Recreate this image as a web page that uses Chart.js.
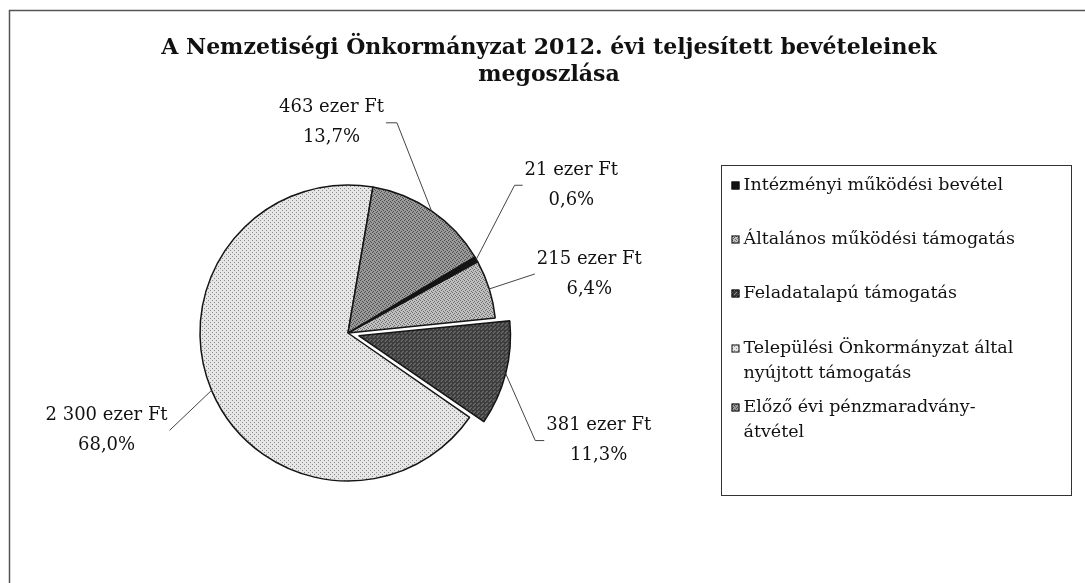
<!DOCTYPE html>
<html>
<head>
<meta charset="utf-8">
<script src="https://cdn.jsdelivr.net/npm/chart.js@4.4.1/dist/chart.umd.min.js"></script>
<style>
  html, body { margin: 0; padding: 0; background: #fff; }
</style>
</head>
<body>
<canvas id="incomeChart" width="1085" height="583"></canvas>
<script>
// Data (ezer Ft)
const categories = [
    'Intézményi működési bevétel',
    'Általános működési támogatás',
    'Feladatalapú támogatás',
    'Települési Önkormányzat által nyújtott támogatás',
    'Előző évi pénzmaradvány-átvétel'
];
const legendLines = [
    ['Intézményi működési bevétel'],
    ['Általános működési támogatás'],
    ['Feladatalapú támogatás'],
    ['Települési Önkormányzat által', 'nyújtott támogatás'],
    ['Előző évi pénzmaradvány-', 'átvétel']
];
const values = [21, 215, 381, 2300, 463];
const unit = 'ezer Ft';
const titleLines = ['A Nemzetiségi Önkormányzat 2012. évi teljesített bevételeinek', 'megoszlása'];

// where each data label sits relative to its slice edge (dx, dy, elbow length)
const labelPlacement = [
    { dx: 95, dy: -74, elbow: 8 },
    { dx: 100, dy: -15, elbow: 0 },
    { dx: 93, dy: 67, elbow: 9 },
    { dx: -105, dy: 40, elbow: 0 },
    { dx: -100, dy: -88, elbow: 11 }
];
// legend rows, distance of each entry's first line from the first one
const legendRows = [0, 54, 108, 163, 222];

const FONT = "'DejaVu Serif', 'Liberation Serif', serif";
const canvas = document.getElementById('incomeChart');
const ctx = canvas.getContext('2d');

// small repeating textures imitating the printed halftone fills
function texture(base, ink, dots) {
    const c = document.createElement('canvas');
    c.width = 4; c.height = 4;
    const g = c.getContext('2d');
    g.fillStyle = base;
    g.fillRect(0, 0, 4, 4);
    g.fillStyle = ink;
    dots.forEach(([x, y]) => g.fillRect(x, y, 1, 1));
    return ctx.createPattern(c, 'repeat');
}

const fills = [
    '#141414',
    texture('#c0c0c0', '#6c6c6c', [[0, 0], [2, 1], [1, 2], [3, 3]]),
    texture('#3a3a3a', '#959595', [[0, 0], [2, 2], [3, 1]]),
    texture('#e6e6e6', '#8a8a8a', [[0, 0], [2, 2]]),
    texture('#9a9a9a', '#4e4e4e', [[0, 0], [2, 1], [1, 3], [3, 2]])
];

const total = values.reduce((a, b) => a + b, 0);
function fmtValue(v) {
    return String(v).replace(/\B(?=(\d{3})+(?!\d))/g, ' ') + ' ' + unit;
}
function fmtPct(v) {
    return (v / total * 100).toFixed(1).replace('.', ',') + '%';
}

// page frame + title
const framePlugin = {
    id: 'frameAndTitle',
    beforeDraw(chart) {
        const c = chart.ctx;
        c.save();
        c.fillStyle = '#fff';
        c.fillRect(0, 0, chart.width, chart.height);
        c.strokeStyle = '#555';
        c.lineWidth = 1.5;
        c.beginPath();
        c.moveTo(9.5, chart.height);
        c.lineTo(9.5, 10.5);
        c.lineTo(chart.width, 10.5);
        c.stroke();

        c.fillStyle = '#111';
        c.font = 'bold 22px ' + FONT;
        c.textAlign = 'center';
        c.textBaseline = 'middle';
        titleLines.forEach((t, i) => c.fillText(t, 549, 48 + i * 27));
        c.restore();
    }
};

// data labels with leader lines
const labelPlugin = {
    id: 'sliceLabels',
    afterDatasetsDraw(chart) {
        const c = chart.ctx;
        const meta = chart.getDatasetMeta(0);
        c.save();
        c.font = '18px ' + FONT;
        c.textAlign = 'center';
        c.textBaseline = 'middle';
        meta.data.forEach((arc, i) => {
            const p = arc.getProps(['x', 'y', 'startAngle', 'endAngle', 'outerRadius', 'circumference'], true);
            const mid = (p.startAngle + p.endAngle) / 2;
            const off = (arc.options.offset || 0) / 4;
            const fix = 1 - Math.sin(Math.min(Math.PI, p.circumference || 0));
            const r = p.outerRadius + off * fix;
            const ax = p.x + Math.cos(mid) * (r + off);
            const ay = p.y + Math.sin(mid) * (r + off);

            const place = labelPlacement[i];
            const lines = [fmtValue(values[i]), fmtPct(values[i])];
            const cx = ax + place.dx;
            const cy = ay + place.dy;
            const w = Math.max(...lines.map(l => c.measureText(l).width));
            const side = place.dx > 0 ? 1 : -1;
            const edge = cx - side * (w / 2 + 2);

            c.strokeStyle = '#444';
            c.lineWidth = 1;
            c.beginPath();
            c.moveTo(ax, ay);
            c.lineTo(edge - side * place.elbow, cy);
            c.lineTo(edge, cy);
            c.stroke();

            c.fillStyle = '#111';
            c.fillText(lines[0], cx, cy - 15);
            c.fillText(lines[1], cx, cy + 15);
        });
        c.restore();
    }
};

// framed legend on the right
const legendPlugin = {
    id: 'boxLegend',
    afterDraw(chart) {
        const c = chart.ctx;
        const box = { left: 721.5, top: 165.5, right: 1071.5, bottom: 495.5 };
        c.save();
        c.strokeStyle = '#333';
        c.lineWidth = 1;
        c.strokeRect(box.left, box.top, box.right - box.left, box.bottom - box.top);
        c.font = '17.5px ' + FONT;
        c.textAlign = 'left';
        c.textBaseline = 'middle';
        const lineStep = 25;
        legendLines.forEach((lines, i) => {
            const y = box.top + 20 + legendRows[i];
            const mx = box.left + 10;
            c.fillStyle = fills[i];
            c.fillRect(mx, y - 4, 8, 8);
            c.strokeStyle = '#111';
            c.strokeRect(mx + 0.5, y - 3.5, 7, 7);
            c.fillStyle = '#111';
            lines.forEach((t, j) => c.fillText(t, mx + 12, y + j * lineStep));
        });
        c.restore();
    }
};

new Chart(ctx, {
    type: 'pie',
    data: {
        labels: categories,
        datasets: [{
            data: values,
            backgroundColor: fills,
            borderColor: '#151515',
            borderWidth: 1.5,
            offset: [0, 0, 44, 0, 0],
            rotation: 59,
            radius: 148
        }]
    },
    options: {
        responsive: false,
        animation: false,
        layout: { padding: { left: 10, right: 399, top: 100, bottom: 17 } },
        plugins: {
            legend: { display: false },
            title: { display: false },
            tooltip: { enabled: false }
        }
    },
    plugins: [framePlugin, labelPlugin, legendPlugin]
});
</script>
</body>
</html>
